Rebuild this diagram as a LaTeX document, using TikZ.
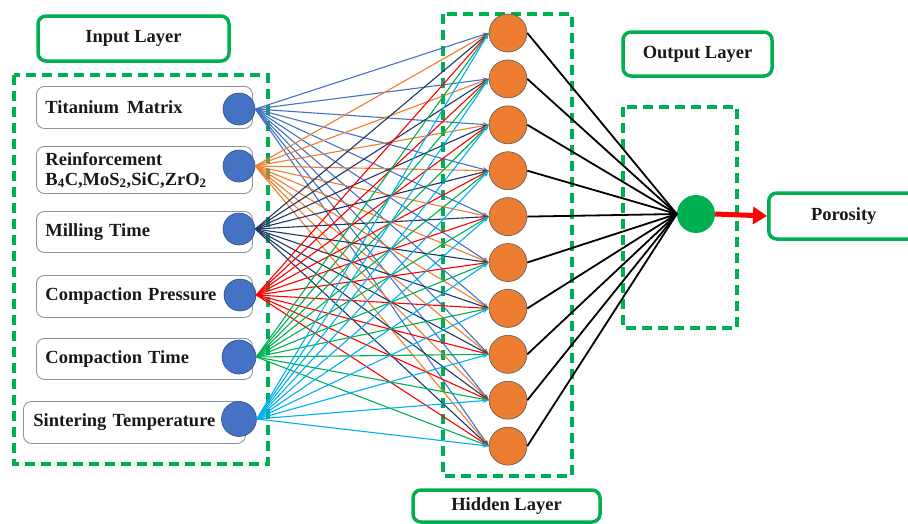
\documentclass[tikz,border=0pt]{standalone}
\usepackage{fontspec}
\setmainfont{Liberation Serif}
\usetikzlibrary{arrows.meta}
\definecolor{gGreen}{HTML}{00B050}
\definecolor{iBlue}{HTML}{4472C4}
\definecolor{hOrange}{HTML}{ED7D31}
\definecolor{cNavy}{HTML}{203864}
\definecolor{cRed}{HTML}{FF0000}
\definecolor{cGreen}{HTML}{00B050}
\definecolor{cSky}{HTML}{00B0F0}
\definecolor{boxGray}{HTML}{8A96A8}
\begin{document}
\begin{tikzpicture}[x=1pt,y=-1pt,
  every node/.style={font=\fontsize{18.5}{21}\selectfont\bfseries, text=black!90},
  labelbox/.style={draw=gGreen, line width=3.5pt, rounded corners=8pt},
  dashbox/.style={draw=gGreen, line width=3.5pt, dash pattern=on 10pt off 6pt},
  inbox/.style={draw=boxGray, line width=0.9pt, rounded corners=8pt, anchor=north west, align=left, inner sep=0pt},
  incirc/.style={circle, fill=iBlue, draw=iBlue!70!black, line width=0.6pt, minimum size=32pt, inner sep=0pt},
  hidcirc/.style={circle, fill=hOrange, draw=gray!70!black, line width=0.6pt, minimum size=38pt, inner sep=0pt},
  conn/.style={line width=1.1pt, -{Stealth[length=6pt,width=4.5pt]}},
  outline/.style={line width=1.8pt, black}
]
\useasboundingbox (0,0) rectangle (908,523);

% group boxes
\draw[dashbox] (14,75) rectangle (268,464);
\draw[dashbox] (443,14) rectangle (572,476);
\draw[dashbox] (623,107) rectangle (737,328);

% layer labels
\node[labelbox, minimum width=191pt, minimum height=45pt] (inlab) at (133.5,38.5) {Input Layer};
\node[labelbox, minimum width=149pt, minimum height=44pt] (outlab) at (697.5,54) {Output Layer};
\node[labelbox, minimum width=187pt, minimum height=32pt] (hidlab) at (506.5,506) {Hidden Layer};
\node[labelbox, minimum width=150pt, minimum height=46pt, anchor=west] (poro) at (767,216) {Porosity};

% input boxes
\node[inbox, minimum width=216pt, minimum height=42pt, text width=216pt] (b1) at (36,86) {\hspace*{9pt}Titanium\hspace{8pt}Matrix};
\node[inbox, minimum width=216pt, minimum height=47pt, text width=216pt] (b2) at (36,146) {\hspace*{9pt}Reinforcement\\[-1pt]\hspace*{9pt}B\textsubscript{4}C,MoS\textsubscript{2},SiC,ZrO\textsubscript{2}};
\node[inbox, minimum width=216pt, minimum height=41pt, text width=216pt] (b3) at (36,211) {\hspace*{9pt}Milling Time};
\node[inbox, minimum width=216pt, minimum height=42pt, text width=216pt] (b4) at (36,275) {\hspace*{9pt}Compaction Pressure};
\node[inbox, minimum width=216pt, minimum height=41pt, text width=216pt] (b5) at (36,338) {\hspace*{9pt}Compaction Time};
\node[inbox, minimum width=222pt, minimum height=42pt, text width=222pt] (b6) at (23,401) {\hspace*{10pt}Sintering Temperature};

% input neurons
\node[incirc] (i1) at (239,109) {};
\node[incirc] (i2) at (239,166) {};
\node[incirc] (i3) at (239,229) {};
\node[incirc] (i4) at (240,295) {};
\node[incirc, minimum size=34pt] (i5) at (239,357) {};
\node[incirc, minimum size=35pt] (i6) at (239,419) {};

% hidden neurons
\foreach \j in {1,...,10} {
  \node[hidcirc] (h\j) at (508,{33+45.9*(\j-1)}) {};
}

% output neuron
\node[circle, fill=gGreen, minimum size=38pt, inner sep=0pt] (o) at (696,214) {};

% connections input -> hidden
\foreach \i/\c in {1/iBlue,2/hOrange,3/cNavy,4/cRed,5/cGreen,6/cSky} {
  \foreach \j in {1,...,10} {
    \draw[conn, draw=\c, \c] (i\i.east) -- (h\j.west);
  }
}

% hidden -> output
\foreach \j in {1,...,10} {
  \draw[outline] (h\j.east) -- (o.west);
}

% output arrow
\draw[draw=cRed, fill=cRed, line width=5pt, -{Triangle[length=14pt,width=17pt]}] (o.east) -- (poro.west);
\end{tikzpicture}
\end{document}
